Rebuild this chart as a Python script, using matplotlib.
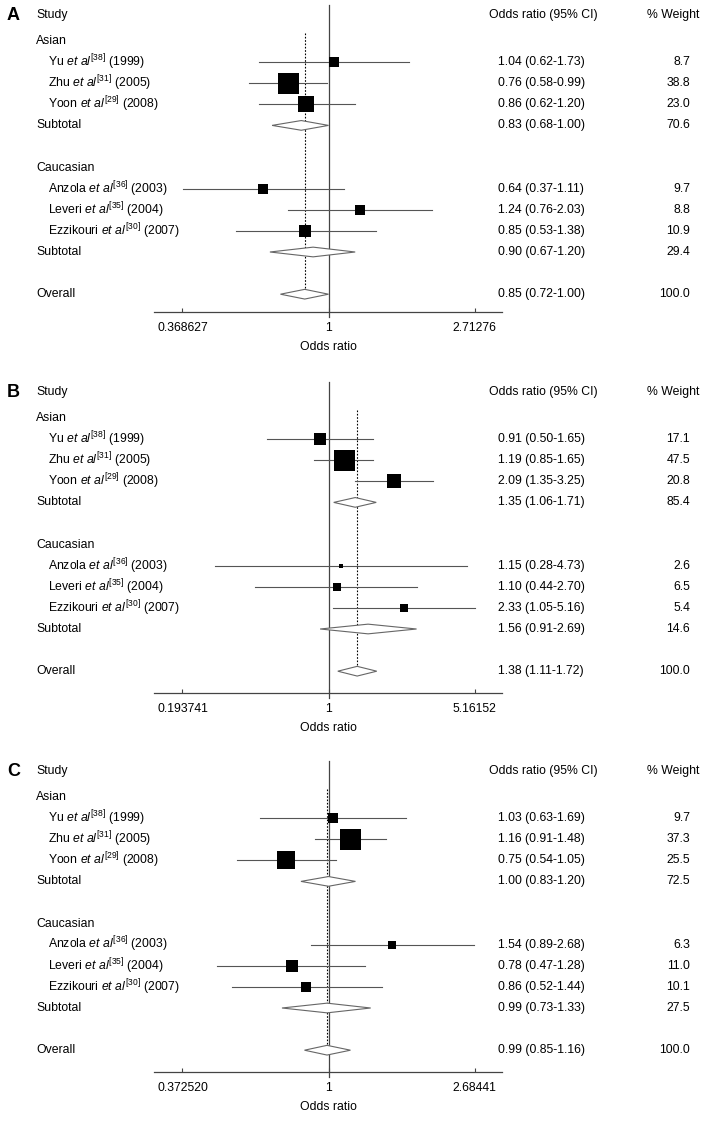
import numpy as np
import matplotlib
matplotlib.use('Agg')
import matplotlib.pyplot as plt
from matplotlib.transforms import blended_transform_factory
from matplotlib.patches import Polygon
from matplotlib.ticker import FixedLocator, NullLocator

plt.rcParams['font.family'] = ['Liberation Sans', 'DejaVu Sans']
plt.rcParams['mathtext.fontset'] = 'custom'
plt.rcParams['mathtext.rm'] = 'Liberation Sans'
plt.rcParams['mathtext.it'] = 'Liberation Sans:italic'

# ---------------- data ----------------
panel_letters = ["A", "B", "C"]
group_names = ["Asian", "Caucasian"]
study_labels = [
    r"Yu $\mathit{et\ al}^{\mathrm{[38]}}$ (1999)",
    r"Zhu $\mathit{et\ al}^{\mathrm{[31]}}$ (2005)",
    r"Yoon $\mathit{et\ al}^{\mathrm{[29]}}$ (2008)",
    r"Anzola $\mathit{et\ al}^{\mathrm{[36]}}$ (2003)",
    r"Leveri $\mathit{et\ al}^{\mathrm{[35]}}$ (2004)",
    r"Ezzikouri $\mathit{et\ al}^{\mathrm{[30]}}$ (2007)",
]

# Panel A
a_or = [1.04, 0.76, 0.86, 0.64, 1.24, 0.85]
a_lo = [0.62, 0.58, 0.62, 0.37, 0.76, 0.53]
a_hi = [1.73, 0.99, 1.20, 1.11, 2.03, 1.38]
a_w = [8.7, 38.8, 23.0, 9.7, 8.8, 10.9]
a_sub_or = [0.83, 0.90]
a_sub_lo = [0.68, 0.67]
a_sub_hi = [1.00, 1.20]
a_sub_w = [70.6, 29.4]
a_all = [0.85, 0.72, 1.00, 100.0]
a_ticks = [0.368627, 1, 2.71276]
a_ticklabels = ["0.368627", "1", "2.71276"]

# Panel B
b_or = [0.91, 1.19, 2.09, 1.15, 1.10, 2.33]
b_lo = [0.50, 0.85, 1.35, 0.28, 0.44, 1.05]
b_hi = [1.65, 1.65, 3.25, 4.73, 2.70, 5.16]
b_w = [17.1, 47.5, 20.8, 2.6, 6.5, 5.4]
b_sub_or = [1.35, 1.56]
b_sub_lo = [1.06, 0.91]
b_sub_hi = [1.71, 2.69]
b_sub_w = [85.4, 14.6]
b_all = [1.38, 1.11, 1.72, 100.0]
b_ticks = [0.193741, 1, 5.16152]
b_ticklabels = ["0.193741", "1", "5.16152"]

# Panel C
c_or = [1.03, 1.16, 0.75, 1.54, 0.78, 0.86]
c_lo = [0.63, 0.91, 0.54, 0.89, 0.47, 0.52]
c_hi = [1.69, 1.48, 1.05, 2.68, 1.28, 1.44]
c_w = [9.7, 37.3, 25.5, 6.3, 11.0, 10.1]
c_sub_or = [1.00, 0.99]
c_sub_lo = [0.83, 0.73]
c_sub_hi = [1.20, 1.33]
c_sub_w = [72.5, 27.5]
c_all = [0.99, 0.85, 1.16, 100.0]
c_ticks = [0.372520, 1, 2.68441]
c_ticklabels = ["0.372520", "1", "2.68441"]

panels = [
    (a_or, a_lo, a_hi, a_w, a_sub_or, a_sub_lo, a_sub_hi, a_sub_w, a_all, a_ticks, a_ticklabels),
    (b_or, b_lo, b_hi, b_w, b_sub_or, b_sub_lo, b_sub_hi, b_sub_w, b_all, b_ticks, b_ticklabels),
    (c_or, c_lo, c_hi, c_w, c_sub_or, c_sub_lo, c_sub_hi, c_sub_w, c_all, c_ticks, c_ticklabels),
]

# ---------------- layout ----------------
W, H = 709, 1123
fig = plt.figure(figsize=(W / 100, H / 100), dpi=100)
ROW = 21.1
asian_px = [41, 418, 797]
axis_px = [312, 693, 1072]
TOP_ROW = -0.7
AX_L, AX_R = 154, 502
FS = 8.8
study_rows = [2, 3, 4, 8, 9, 10]
group_rows = [1, 7]
sub_rows = [5, 11]
overall_row = 13
header_row = -0.21
CI_COL = '#555555'
DIA_COL = '#666666'

for p, (ors, los, his, ws, sor, slo, shi, sw, allv, ticks, tlabels) in enumerate(panels):
    top_px = asian_px[p] + (TOP_ROW - 1) * ROW
    bot_row = 1 + (axis_px[p] - asian_px[p]) / ROW
    ax = fig.add_axes([AX_L / W, 1 - axis_px[p] / H, (AX_R - AX_L) / W, (axis_px[p] - top_px) / H])
    d = np.log(ticks[2])
    ax.set_xscale('log')
    ax.set_xlim(np.exp(-1.195 * d), np.exp(1.188 * d))
    ax.set_ylim(bot_row, TOP_ROW)
    for s in ['top', 'left', 'right']:
        ax.spines[s].set_visible(False)
    ax.spines['bottom'].set_color('#444444')
    ax.spines['bottom'].set_linewidth(0.9)
    ax.set_yticks([])
    ax.xaxis.set_major_locator(FixedLocator(ticks))
    ax.xaxis.set_minor_locator(NullLocator())
    ax.set_xticklabels(tlabels)
    ax.tick_params(axis='x', direction='in', length=3, width=0.8, color='#444444',
                   labelsize=FS, pad=7)
    ax.set_xlabel('Odds ratio', fontsize=FS, labelpad=5)
    ax.patch.set_visible(False)

    # reference line at 1
    ax.plot([1, 1], [TOP_ROW, bot_row + 0.25], color='#444444', lw=0.9, clip_on=False, zorder=1)
    # overall dotted line
    ax.plot([allv[0], allv[0]], [0.6, overall_row], color='black', lw=0.8,
            ls=(0, (1.5, 1.5)), zorder=1)

    wmax = max(ws)
    for i in range(6):
        r = study_rows[i]
        ax.plot([los[i], his[i]], [r, r], color=CI_COL, lw=0.8, zorder=2)
        side_px = 21 * np.sqrt(ws[i] / wmax)
        ax.plot([ors[i]], [r], marker='s', ms=side_px * 0.72, color='black', mew=0, zorder=3)

    hh = 0.23
    dias = [(sor[0], slo[0], shi[0], sub_rows[0]), (sor[1], slo[1], shi[1], sub_rows[1]),
            (allv[0], allv[1], allv[2], overall_row)]
    for est, lo, hi, r in dias:
        poly = Polygon([[lo, r], [est, r - hh], [hi, r], [est, r + hh]], closed=True,
                       facecolor='white', edgecolor=DIA_COL, lw=0.8, zorder=4)
        ax.add_patch(poly)

    tr = blended_transform_factory(fig.transFigure, ax.transData)

    def txt(xpx, row, s, ha='left', **kw):
        ax.text(xpx / W, row, s, transform=tr, ha=ha, va='center', fontsize=FS,
                clip_on=False, **kw)

    ax.text(7 / W, header_row, panel_letters[p], transform=tr, ha='left', va='center',
            fontsize=13, fontweight='bold', clip_on=False)
    txt(36, header_row, 'Study')
    txt(489, header_row, 'Odds ratio (95% CI)')
    txt(647, header_row, '% Weight')
    for g in range(2):
        txt(36, group_rows[g], group_names[g])
        txt(36, sub_rows[g], 'Subtotal')
        txt(498, sub_rows[g], f"{sor[g]:.2f} ({slo[g]:.2f}-{shi[g]:.2f})")
        txt(690, sub_rows[g], f"{sw[g]:.1f}", ha='right')
    for i in range(6):
        r = study_rows[i]
        txt(48, r, study_labels[i])
        txt(498, r, f"{ors[i]:.2f} ({los[i]:.2f}-{his[i]:.2f})")
        txt(690, r, f"{ws[i]:.1f}", ha='right')
    txt(36, overall_row, 'Overall')
    txt(498, overall_row, f"{allv[0]:.2f} ({allv[1]:.2f}-{allv[2]:.2f})")
    txt(690, overall_row, f"{allv[3]:.1f}", ha='right')

fig.savefig('out.png', dpi=100)
